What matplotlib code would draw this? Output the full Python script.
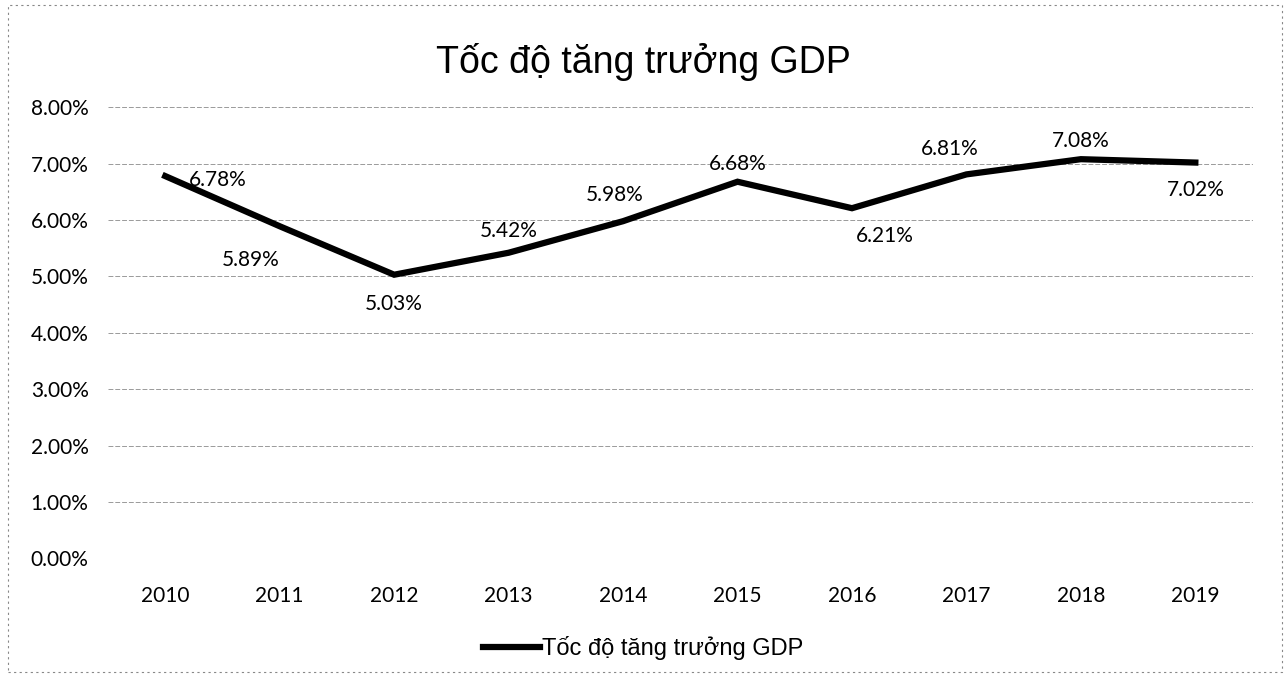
import matplotlib
matplotlib.use('Agg')
import matplotlib.pyplot as plt
from matplotlib.patches import Rectangle
from matplotlib.ticker import FuncFormatter

years = ['2010', '2011', '2012', '2013', '2014', '2015', '2016', '2017', '2018', '2019']
gdp = [6.78, 5.89, 5.03, 5.42, 5.98, 6.68, 6.21, 6.81, 7.08, 7.02]

title = 'Tốc độ tăng trưởng GDP'

# label offsets in points (dx, dy)
offs = [(38, -3), (-21, -24), (0, -21), (0, 16), (-6, 19), (0, 13), (24, -20), (-12, 18), (0, 13), (0, -20)]

fig = plt.figure(figsize=(12.86, 6.75), dpi=100)
ax = fig.add_axes([0.084, 0.173, 0.890, 0.668])

x = list(range(len(years)))
ax.plot(x, gdp, color='black', lw=4.5, solid_joinstyle='miter', label=title)

for i, v in enumerate(gdp):
    ax.annotate('%.2f%%' % v, (i, v), xytext=offs[i], textcoords='offset points',
                ha='center', va='center', fontsize=15, family='Lato', color='black')

ax.set_xlim(-0.5, len(years) - 0.5)
ax.set_ylim(0, 8)
ax.set_yticks(range(0, 9))
ax.yaxis.set_major_formatter(FuncFormatter(lambda v, p: '%.2f%%' % v))
ax.set_xticks(x)
ax.set_xticklabels(years)
for lab in ax.get_xticklabels() + ax.get_yticklabels():
    lab.set_family('Lato')
    lab.set_fontsize(15)
    lab.set_color('black')
ax.tick_params(axis='x', length=0, pad=20)
ax.tick_params(axis='y', length=0, pad=14)
ax.grid(axis='y', color='#9a9a9a', lw=0.7, ls=(0, (5, 2)))
ax.set_axisbelow(True)
for s in ax.spines.values():
    s.set_visible(False)

fig.text(0.5, 0.908, title, ha='center', va='center', fontsize=27, family='Liberation Sans')

leg = fig.legend(loc='center', bbox_to_anchor=(0.5, 0.04), frameon=False,
                 prop={'family': 'Liberation Sans', 'size': 17}, handlelength=2.4, handletextpad=0.1)

fig.patches.append(Rectangle((0.006, 0.005), 0.991, 0.988, transform=fig.transFigure,
                             fill=False, ec='#888888', lw=0.8, ls=(0, (2, 3))))

fig.savefig('out.png', dpi=100)
